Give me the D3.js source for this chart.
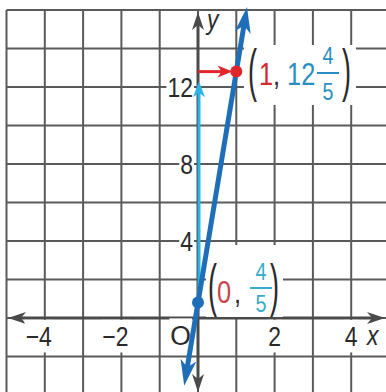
<!DOCTYPE html>
<html>
<head>
<meta charset="utf-8">
<script src="https://d3js.org/d3.v7.min.js"></script>
<style>
  body { margin: 0; background: #fff; }
  text { font-family: 'Liberation Sans', Arial, sans-serif; }
</style>
</head>
<body>
<script>
  // grid lines (x every 1, y every 2)
  var gridX = [-5, -4, -3, -2, -1, 0, 1, 2, 3, 4, 5];
  var gridY = [-4, -2, 0, 2, 4, 6, 8, 10, 12, 14, 16];
  var xTicks = [-4, -2, 2, 4];
  var yTicks = [4, 8, 12];

  // y = 12x + 4/5
  var lineEnds = [[-0.36, -3.52], [1.28, 16.16]];
  var points = [[0, 0.8], [1, 12.8]];
  var rise = [[0, 0.8], [0, 12.3]];   // cyan arrow
  var run = [[0, 12.8], [0.9, 12.8]]; // red arrow

  var width = 386, height = 392;
  var x = d3.scaleLinear().domain([-5, 5]).range([6.5, 389.5]);
  var y = d3.scaleLinear().domain([-4, 16]).range([395, 10]);

  var svg = d3.select("body").append("svg")
    .attr("width", width)
    .attr("height", height);

  var blue = "#1f6eb8", cyan = "#2bb3e6", red = "#e0262b", teal = "#2a8fc0", ink = "#2a2a2a";

  // grid
  svg.append("g").selectAll("line").data(gridX).join("line")
    .attr("x1", d => x(d)).attr("x2", d => x(d))
    .attr("y1", y(16)).attr("y2", height)
    .attr("stroke", "#5a5a5a").attr("stroke-width", 2);
  svg.append("g").selectAll("line").data(gridY).join("line")
    .attr("x1", x(-5)).attr("x2", width)
    .attr("y1", d => y(d)).attr("y2", d => y(d))
    .attr("stroke", "#5a5a5a").attr("stroke-width", 2);

  function head(g, tip, from, len, half, color) {
    var dx = tip[0] - from[0], dy = tip[1] - from[1], d = Math.hypot(dx, dy);
    var ux = dx / d, uy = dy / d, px = -uy, py = ux;
    var bx = tip[0] - ux * len, by = tip[1] - uy * len;
    var nx = tip[0] - ux * len * 0.72, ny = tip[1] - uy * len * 0.72;
    g.append("path")
      .attr("d", "M" + tip + "L" + [bx + px * half, by + py * half] + "L" + [nx, ny] +
        "L" + [bx - px * half, by - py * half] + "Z")
      .attr("fill", color);
  }

  function arrowLine(g, a, b, color, w, len, half, both) {
    var dx = b[0] - a[0], dy = b[1] - a[1], d = Math.hypot(dx, dy);
    var ux = dx / d, uy = dy / d;
    var s = both ? [a[0] + ux * len * 0.7, a[1] + uy * len * 0.7] : a;
    var e = [b[0] - ux * len * 0.7, b[1] - uy * len * 0.7];
    g.append("line")
      .attr("x1", s[0]).attr("y1", s[1]).attr("x2", e[0]).attr("y2", e[1])
      .attr("stroke", color).attr("stroke-width", w);
    head(g, b, a, len, half, color);
    if (both) head(g, a, b, len, half, color);
  }

  // narrow text: Liberation Sans squeezed horizontally
  function t(g, px, py, str, size, color, anchor, sx, sy) {
    return g.append("text")
      .attr("transform", "translate(" + px + "," + py + ") scale(" + (sx || 0.82) + "," + (sy || 1) + ")")
      .attr("text-anchor", anchor || "start")
      .attr("font-size", size)
      .attr("fill", color)
      .text(str);
  }

  // axes
  var axes = svg.append("g");
  arrowLine(axes, [8, y(0)], [385, y(0)], "#4a4a4a", 3, 18, 6, true);
  arrowLine(axes, [x(0), 392], [x(0), 12], "#4a4a4a", 3, 18, 6, true);

  // white boxes behind text
  function boxed(g, pad) {
    var b = g.node().getBBox();
    g.insert("rect", ":first-child")
      .attr("x", b.x - pad).attr("y", b.y - pad)
      .attr("width", b.width + 2 * pad).attr("height", b.height + 2 * pad)
      .attr("fill", "#fff");
  }

  var labels = svg.append("g");

  xTicks.forEach(function(v) {
    var g = labels.append("g");
    t(g, v < 0 ? x(v) + 7 : x(v), y(0) + 28, v < 0 ? "\u2212" + (-v) : v, 28, ink, v < 0 ? "end" : "middle");
    boxed(g, 1);
  });
  yTicks.forEach(function(v) {
    var g = labels.append("g");
    t(g, x(0) - 5, y(v) + 10, v, 28, ink, "end");
    boxed(g, 1);
  });
  var og = labels.append("g");
  t(og, x(0) - 7, y(0) + 27, "O", 28, ink, "end", 0.95);
  boxed(og, 1);

  t(labels, 367, y(0) + 27, "x", 28, ink).attr("font-style", "italic");
  t(labels, 207, 29, "y", 28, ink).attr("font-style", "italic");

  // point labels: white panel, tall thin parentheses, mixed number / fraction
  function pointLabel(box, p) {
    var g = svg.append("g");
    g.append("rect")
      .attr("x", box[0]).attr("y", box[1])
      .attr("width", box[2]).attr("height", box[3])
      .attr("fill", "#fff");
    t(g, p.lp, p.pb, "(", 30, ink, "start", 0.9, 1.9);
    t(g, p.rp, p.pb, ")", 30, ink, "start", 0.9, 1.9);
    t(g, p.xx, p.base, p.xv, 31, p.xc);
    t(g, p.cx, p.base, ",", 31, ink);
    if (p.whole != null) t(g, p.wx, p.base, p.whole, 31, p.yc);
    t(g, p.fx, p.nb, p.num, 24, p.yc, "middle");
    g.append("line").attr("x1", p.fx - 11).attr("x2", p.fx + 11)
      .attr("y1", p.bar).attr("y2", p.bar)
      .attr("stroke", p.yc).attr("stroke-width", 2);
    t(g, p.fx, p.db, p.den, 24, p.yc, "middle");
  }

  pointLabel([244, 45, 112, 60], {
    lp: 248, rp: 342, pb: 90, base: 85,
    xx: 259, xv: points[1][0], xc: "#d42a2e",
    cx: 273, wx: 287, whole: Math.floor(points[1][1]), yc: teal,
    fx: 328, nb: 64, bar: 73, db: 100, num: "4", den: "5"
  });
  pointLabel([206, 245, 77, 72], {
    lp: 208, rp: 270, pb: 305, base: 303,
    xx: 217, xv: points[0][0], xc: "#c8474b",
    cx: 234, wx: 0, whole: null, yc: "#38aacb",
    fx: 261, nb: 280, bar: 288, db: 312, num: "4", den: "5"
  });

  // rise and run arrows
  var marks = svg.append("g");
  arrowLine(marks, [x(rise[0][0]) + 1, y(rise[0][1])], [x(rise[1][0]) + 1, y(rise[1][1])], cyan, 3, 16, 6, false);
  arrowLine(marks, [x(run[0][0]), y(run[0][1])], [x(run[1][0]), y(run[1][1])], red, 3, 15, 6, false);

  // the line
  arrowLine(marks, [x(lineEnds[0][0]), y(lineEnds[0][1])], [x(lineEnds[1][0]), y(lineEnds[1][1])], blue, 5, 26, 8, true);

  marks.selectAll("circle").data(points).join("circle")
    .attr("cx", d => x(d[0])).attr("cy", d => y(d[1]))
    .attr("r", 6)
    .attr("fill", (d, i) => i ? red : blue);
</script>
</body>
</html>
